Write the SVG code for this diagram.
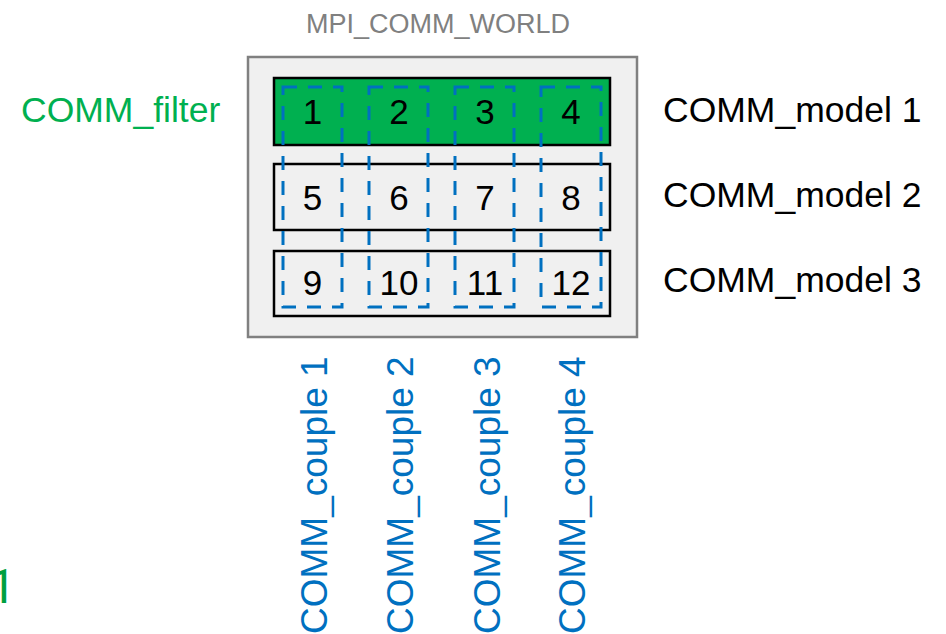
<svg xmlns="http://www.w3.org/2000/svg" width="946" height="634" viewBox="0 0 946 634">
  <style>
    text { font-family: "Liberation Sans", Arial, sans-serif; }
    .num { font-size: 35px; fill: #000; text-anchor: middle; }
    .lbl { font-size: 35.5px; fill: #000; }
    .row { stroke: #000; stroke-width: 2.5; }
    .col { fill: none; stroke: #0070c0; stroke-width: 3; stroke-dasharray: 14 11; }
    .couple { font-size: 37px; fill: #0070c0; }
  </style>
  <rect width="946" height="634" fill="#ffffff"/>
  <text x="438" y="33" font-size="27" fill="#808080" text-anchor="middle">MPI_COMM_WORLD</text>
  <g id="world">
    <rect x="248" y="57" width="389" height="280" fill="#f0f0f0" stroke="#808080" stroke-width="2.5"/>
  </g>
  <g id="model1">
    <rect class="row" x="274" y="78" width="336" height="67" fill="#00b050"/>
    <text class="num" x="312.5" y="124">1</text>
    <text class="num" x="399" y="124">2</text>
    <text class="num" x="485" y="124">3</text>
    <text class="num" x="571" y="124">4</text>
  </g>
  <g id="model2">
    <rect class="row" x="274" y="164" width="336" height="66" fill="#f0f0f0"/>
    <text class="num" x="312.5" y="210">5</text>
    <text class="num" x="399" y="210">6</text>
    <text class="num" x="485" y="210">7</text>
    <text class="num" x="571" y="210">8</text>
  </g>
  <g id="model3">
    <rect class="row" x="274" y="251" width="336" height="65" fill="#f0f0f0"/>
    <text class="num" x="312.5" y="295">9</text>
    <text class="num" x="399" y="295">10</text>
    <text class="num" x="485" y="295">11</text>
    <text class="num" x="571" y="295">12</text>
  </g>
  <g id="couple1">
    <rect class="col" x="283" y="87" width="59" height="220"/>
    <text class="couple" transform="translate(327,634) rotate(-90)">COMM_couple 1</text>
  </g>
  <g id="couple2">
    <rect class="col" x="369" y="87" width="59" height="220"/>
    <text class="couple" transform="translate(413,634) rotate(-90)">COMM_couple 2</text>
  </g>
  <g id="couple3">
    <rect class="col" x="455" y="87" width="59" height="220"/>
    <text class="couple" transform="translate(499.5,634) rotate(-90)">COMM_couple 3</text>
  </g>
  <g id="couple4">
    <rect class="col" x="541" y="87" width="60" height="220"/>
    <text class="couple" transform="translate(585,634) rotate(-90)">COMM_couple 4</text>
  </g>
  <g id="labels">
    <text x="21" y="122" font-size="35.5" fill="#00b050">COMM_filter</text>
    <text class="lbl" x="663" y="122">COMM_model 1</text>
    <text class="lbl" x="663" y="207">COMM_model 2</text>
    <text class="lbl" x="663" y="292">COMM_model 3</text>
    <text x="-11" y="603" font-size="48" fill="#00a040" style="font-family: Roboto, sans-serif">1</text>
  </g>
</svg>
